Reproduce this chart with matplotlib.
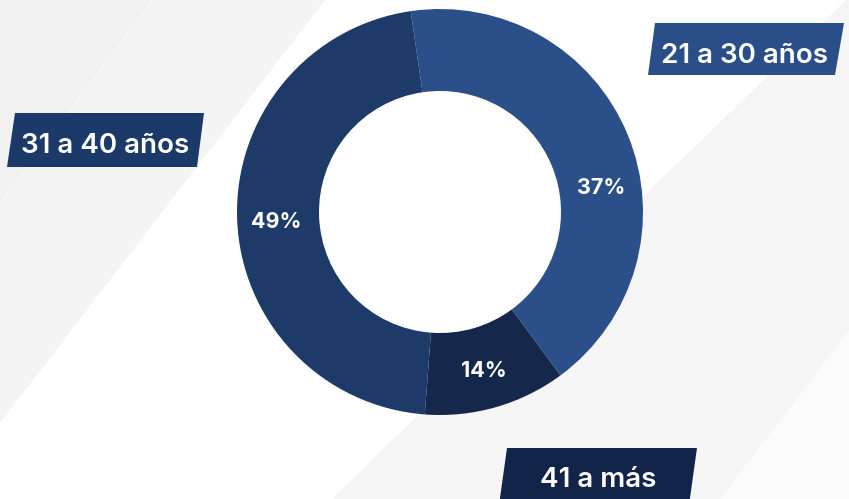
import matplotlib.pyplot as plt
from matplotlib.patches import Polygon

# datos
grupos = ['21 a 30 años', '41 a más', '31 a 40 años']
porcentajes = ['37%', '14%', '49%']
# proporcion dibujada de cada sector (medida sobre la imagen)
sectores = [42.2, 11.3, 46.5]
colores = ['#2b5089', '#15274b', '#1d3a69']

W, H = 849, 499
fig = plt.figure(figsize=(W / 100, H / 100), dpi=100)
ax = fig.add_axes([0, 0, 1, 1])

def img(x, y):
    # coordenadas de imagen (y hacia abajo) -> ejes
    return (x, H - y)

# fondo con franjas diagonales suaves
fondo = [
    ([(0, 0), (325, 0), (0, 423)], '#f4f4f4'),
    ([(0, 0), (150, 0), (0, 200)], '#f1f1f1'),
    ([(846, 0), (849, 0), (849, 499), (332, 499)], '#f5f5f5'),
    ([(849, 330), (849, 499), (720, 499)], '#fbfbfb'),
]
for pts, c in fondo:
    ax.add_patch(Polygon([img(*p) for p in pts], closed=True, color=c, lw=0, zorder=0))

# dona
ax.pie(sectores, colors=colores, startangle=98.3, counterclock=False,
       center=img(440, 212), radius=203, frame=True,
       wedgeprops=dict(width=82, edgecolor='none'))
ax.set_xlim(0, W)
ax.set_ylim(0, H)
ax.set_aspect('equal')
ax.axis('off')

pos_pct = [(601, 194), (484, 377), (276, 228)]
for txt, (x, y) in zip(porcentajes, pos_pct):
    ax.text(*img(x, y), txt, color='white', fontsize=15.5, fontweight='bold',
            family='Inter', ha='center', va='baseline', zorder=5)

# etiquetas en paralelogramos
cajas = [
    [(655, 23), (844, 23), (835, 75), (648, 75)],
    [(507, 448), (697, 448), (689, 505), (499, 505)],
    [(15, 113), (204, 113), (197, 167), (7, 167)],
]
colores_caja = ['#2a4f88', '#13244a', '#1c3a69']
pos_texto = [(745, 63), (598, 487), (105, 153)]
for nombre, caja, c, (x, y) in zip(grupos, cajas, colores_caja, pos_texto):
    ax.add_patch(Polygon([img(*p) for p in caja], closed=True, color=c, lw=0, zorder=4))
    ax.text(*img(x, y), nombre, color='white', fontsize=20, fontweight='semibold',
            family='Inter', ha='center', va='baseline', zorder=5)

fig.savefig('out.png', dpi=100)
